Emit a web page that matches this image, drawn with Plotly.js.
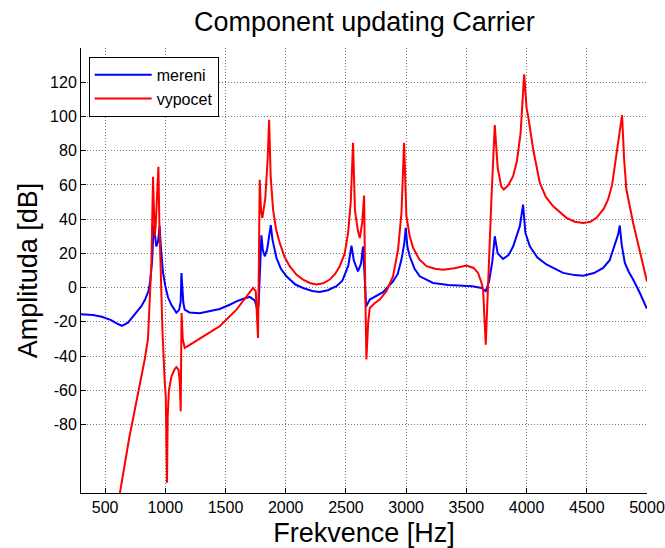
<!DOCTYPE html>
<html>
<head>
<meta charset="utf-8">
<script src="https://cdn.plot.ly/plotly-3.0.1.min.js"></script>
<style>html,body{margin:0;padding:0;background:#fff;}#chart{width:665px;height:548px;}</style>
</head>
<body>
<div id="chart"></div>
<script>
// mereni (measured)
const mereniHz = [300,400,473,550,600,640,690,746,800,832,860,873,890,904,915,926,940,953,962,972,981,1000,1023,1050,1092,1115,1128,1134,1140,1150,1161,1200,1286,1400,1452,1535,1591,1650,1701,1743,1765,1775,1790,1798,1810,1826,1845,1862,1876,1890,1923,1960,2006,2080,2144,2220,2282,2350,2421,2470,2490,2520,2546,2565,2600,2625,2642,2655,2668,2698,2767,2808,2891,2930,2961,2985,2997,3010,3030,3070,3113,3224,3350,3445,3550,3626,3661,3689,3715,3736,3760,3805,3850,3888,3944,3971,3990,4027,4090,4165,4303,4400,4470,4560,4636,4690,4719,4760,4774,4790,4816,4850,4885,4940,4996,5000];
const mereniDb = [-15.5,-16,-17,-19,-21,-22.3,-20.5,-16,-11,-7,-2,3,15,36.5,28,24,27,36,25,15,8.8,1,-5.8,-10,-14.6,-13,-8,8.5,-2,-9,-12.9,-14.5,-15,-13.5,-12.5,-10,-8,-6.5,-5.4,-7.5,-12.9,-10,20,30.5,22,18.3,22,30,36.5,28,17.4,11,6.6,1.8,-0.2,-2,-2.5,-1.5,0.8,4,7.6,13,24.5,16,9.5,14,24,5,-11,-7,-4,-2.7,3.7,8,16.4,26,35,24,18.3,11,6.6,2.7,1.6,1.4,0.8,-0.2,-2.1,3.7,15,30,20,16.8,19,24,35.9,48.5,32,24.2,17.5,13.5,8.6,7.3,7,8.5,11.5,16,22.2,31,36.3,25,14.4,9,4.7,-3,-11.9,-12];

// vypocet (computed)
const vypocetHz = [618,700,773,829,856,873,885,898,905,912,920,930,943,950,962,976,995,1004,1014,1020,1030,1051,1075,1092,1110,1120,1128,1132,1135,1145,1161,1203,1300,1396,1452,1535,1591,1660,1729,1751,1770,1778,1784,1795,1806,1830,1850,1862,1875,1895,1920,1950,1990,2033,2090,2144,2200,2255,2310,2366,2410,2449,2490,2518,2540,2559,2575,2600,2615,2635,2651,2660,2670,2685,2698,2740,2781,2836,2891,2933,2961,2983,3002,3030,3058,3110,3169,3240,3307,3400,3501,3560,3597,3625,3639,3661,3680,3708,3736,3760,3790,3811,3850,3888,3920,3950,3980,4000,4013,4055,4110,4160,4221,4331,4400,4470,4530,4581,4640,4677,4710,4733,4760,4793,4810,4829,4885,4940,4996,5000];
const vypocetDb = [-122,-88,-62,-42,-30,-3,15,64.7,45,30,36,50,70.6,40,4.7,-24.6,-55,-63.6,-114,-75,-60,-52,-48,-46.4,-48,-55,-72.3,-30,-14.8,-30,-35.3,-33.5,-29,-25,-22.6,-16.5,-12.9,-6.5,-0.2,-2.1,-29.4,20,63,45,40.8,52,75,98,65,45.6,34,26.1,18,12.5,7.5,4.7,2.7,1.8,2.5,4.7,8,12.5,20,32,50,84.6,45,33,29,38,53.8,0,-42,-20,-11.9,-9,-7,-2.1,6.6,22.2,43.7,84.6,41.7,30,23.2,16.5,12.5,11,10.5,11.3,12.9,11.5,8.6,3,-1.2,-33.3,2.7,51.5,95,70,59,57.3,60,65.1,74,90,124.6,105,100.2,80.7,61.2,53,47.5,40.8,38.5,37.8,38.5,40.8,46,51.5,60,71,85,100.8,75,57.3,37.8,22.2,4.7,3.5];

const xTicks = [500,1000,1500,2000,2500,3000,3500,4000,4500,5000];
const yTicks = [-80,-60,-40,-20,0,20,40,60,80,100,120];

const FONT = '"Liberation Sans", Arial, Helvetica, sans-serif';

const traces = [
  {x: mereniHz, y: mereniDb, name: 'mereni', type: 'scatter', mode: 'lines',
   line: {color: '#0000ff', width: 2}},
  {x: vypocetHz, y: vypocetDb, name: 'vypocet', type: 'scatter', mode: 'lines',
   line: {color: '#ff0000', width: 2}}
];

const axisCommon = {
  showline: true, linecolor: '#000', linewidth: 1, mirror: false,
  ticks: 'inside', ticklen: 5, tickcolor: '#000', tickwidth: 1,
  showgrid: true, gridcolor: '#777777', griddash: '1px,2px', gridwidth: 1,
  zeroline: false, tickfont: {family: FONT, size: 16, color: '#000'}
};

const layout = {
  width: 665, height: 548,
  paper_bgcolor: '#fff', plot_bgcolor: '#fff',
  margin: {l: 81, r: 18, t: 48, b: 55},
  title: {text: 'Component updating Carrier', font: {family: FONT, size: 27, color: '#000'},
          x: 0.548, xanchor: 'center', y: 0.96, yref: 'container', yanchor: 'middle'},
  xaxis: Object.assign({}, axisCommon, {
    range: [300, 5000], tickmode: 'array', tickvals: xTicks, ticktext: xTicks.map(String),
    title: {text: 'Frekvence [Hz]', font: {family: FONT, size: 27, color: '#000'}, standoff: 8}
  }),
  yaxis: Object.assign({}, axisCommon, {
    range: [-120, 140], tickmode: 'array', tickvals: yTicks, ticktext: yTicks.map(String),
    title: {text: 'Amplituda [dB]', font: {family: FONT, size: 27, color: '#000'}, standoff: 4}
  }),
  showlegend: true,
  legend: {x: 0.0136, y: 0.98, xanchor: 'left', yanchor: 'top',
           bgcolor: '#fff', bordercolor: '#000', borderwidth: 1,
           font: {family: FONT, size: 16, color: '#000'}, itemwidth: 57,
           tracegroupgap: 0}
};

Plotly.newPlot('chart', traces, layout, {displayModeBar: false, staticPlot: true});
</script>
</body>
</html>
